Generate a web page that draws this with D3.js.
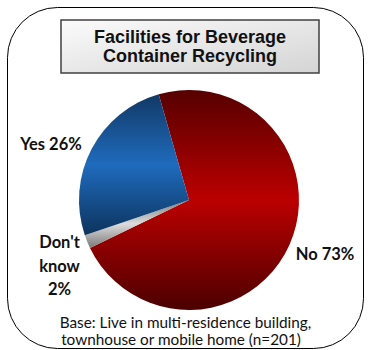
<!DOCTYPE html>
<html>
<head>
<meta charset="utf-8">
<script src="https://cdn.jsdelivr.net/npm/d3@7"></script>
<style>
  html, body { margin: 0; padding: 0; background: #fff; }
  svg { display: block; }
</style>
</head>
<body>
<svg id="chart" width="368" height="350"></svg>
<script>
// Survey answers, drawn clockwise from the top
const categories = ["No", "Don't know", "Yes"];
const values = [73, 2, 26];
const labelLines = [["No 73%"], ["Don't", "know", "2%"], ["Yes 26%"]];
const titleLines = ["Facilities for Beverage", "Container Recycling"];
const baseNote = ["Base: Live in multi-residence building,", "townhouse or mobile home (n=201)"];

// Shaded fills: dark at top and bottom, bright through the middle
const sliceShades = [
  ["#560000", "#bc0000", "#4c0000"],
  ["#7a7a7a", "#dcdcdc", "#7a7a7a"],
  ["#113965", "#1f6bbd", "#0d335d"]
];

const svg = d3.select("#chart");
const defs = svg.append("defs");

// Outer rounded frame
svg.append("rect")
  .attr("x", 7.5).attr("y", 7.5)
  .attr("width", 356).attr("height", 341)
  .attr("rx", 50).attr("ry", 50)
  .attr("fill", "#fff")
  .attr("stroke", "#000")
  .attr("stroke-width", 1);

// Title box
const tg = defs.append("linearGradient").attr("id", "titleFill")
  .attr("x1", 0).attr("y1", 0).attr("x2", 1).attr("y2", 1);
tg.append("stop").attr("offset", "0%").attr("stop-color", "#fbfbfb");
tg.append("stop").attr("offset", "100%").attr("stop-color", "#d4d4d4");

svg.append("rect")
  .attr("x", 61).attr("y", 20)
  .attr("width", 258).attr("height", 53)
  .attr("fill", "url(#titleFill)")
  .attr("stroke", "#404040")
  .attr("stroke-width", 1.5);

svg.append("text")
  .attr("x", 190).attr("y", 43)
  .attr("text-anchor", "middle")
  .attr("font-family", "'Liberation Sans', Arial, sans-serif")
  .attr("font-weight", "bold")
  .attr("font-size", 18)
  .attr("fill", "#111")
  .selectAll("tspan")
  .data(titleLines)
  .join("tspan")
  .attr("x", 190)
  .attr("dy", (d, i) => i === 0 ? 0 : 19)
  .text(d => d);

// Pie
const cx = 189, cy = 200, radius = 110;
const startDeg = -16;

const pie = d3.pie()
  .sort(null)
  .value(d => d)
  .startAngle(startDeg * Math.PI / 180)
  .endAngle((startDeg + 360) * Math.PI / 180);

const arcs = pie(values);
const arc = d3.arc().innerRadius(0).outerRadius(radius);

sliceShades.forEach((s, i) => {
  const g = defs.append("linearGradient").attr("id", "slice" + i)
    .attr("x1", 0).attr("y1", 0).attr("x2", 0).attr("y2", 1);
  g.append("stop").attr("offset", "0%").attr("stop-color", s[0]);
  g.append("stop").attr("offset", "50%").attr("stop-color", s[1]);
  g.append("stop").attr("offset", "100%").attr("stop-color", s[2]);
});

const pieG = svg.append("g").attr("transform", `translate(${cx},${cy})`);
pieG.selectAll("path")
  .data(arcs)
  .join("path")
  .attr("d", arc)
  .attr("fill", (d, i) => `url(#slice${i})`)
  .attr("stroke", "none");

// Slice labels
const labelFont = "Lato, 'Open Sans', sans-serif";
const labelPos = [
  { x: 325, y: 260, lh: 0 },
  { x: 59.5, y: 248, lh: 23.5 },
  { x: 51, y: 150, lh: 0 }
];
categories.forEach((c, i) => {
  const t = svg.append("text")
    .attr("x", labelPos[i].x).attr("y", labelPos[i].y)
    .attr("text-anchor", "middle")
    .attr("font-family", labelFont)
    .attr("font-weight", "bold")
    .attr("font-size", 16.5)
    .attr("fill", "#111");
  t.selectAll("tspan")
    .data(labelLines[i])
    .join("tspan")
    .attr("x", labelPos[i].x)
    .attr("dy", (d, j) => j === 0 ? 0 : labelPos[i].lh)
    .text(d => d);
});

// Base note, one text per line
baseNote.forEach((line, i) => {
  svg.append("text")
    .attr("x", i === 0 ? 185.5 : 181)
    .attr("y", 328 + i * 16.5)
    .attr("text-anchor", "middle")
    .attr("font-family", labelFont)
    .attr("font-size", 15.3)
    .attr("fill", "#111")
    .text(line);
});
</script>
</body>
</html>
